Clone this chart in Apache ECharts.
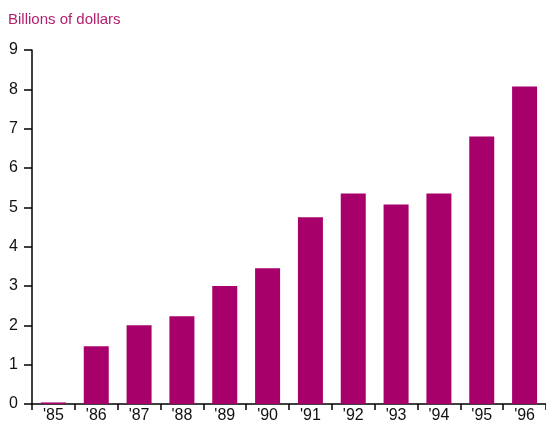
<!DOCTYPE html>
<html>
<head>
<meta charset="utf-8">
<script src="https://cdn.jsdelivr.net/npm/echarts@6/dist/echarts.min.js"></script>
<style>
  html, body { margin: 0; padding: 0; background: #fff; }
  #chart { width: 546px; height: 424px; }
</style>
</head>
<body>
<div id="chart"></div>
<script>
const years = ["'85", "'86", "'87", "'88", "'89", "'90", "'91", "'92", "'93", "'94", "'95", "'96"];
const values = [0.04, 1.47, 2.0, 2.23, 3.0, 3.45, 4.75, 5.35, 5.07, 5.35, 6.8, 8.07];
const yTicks = [0, 1, 2, 3, 4, 5, 6, 7, 8, 9];

const chart = echarts.init(document.getElementById('chart'));
const font = 'Liberation Sans, Arial, sans-serif';

chart.setOption({
    animation: false,
    title: {
        text: 'Billions of dollars',
        left: 3,
        top: 7,
        textStyle: { fontFamily: font, fontSize: 15, fontWeight: 'normal', color: '#B4206F' }
    },
    grid: { left: 32, right: 0, top: 50, bottom: 19, containLabel: false },
    xAxis: {
        type: 'category',
        data: years,
        axisLine: { lineStyle: { color: '#000', width: 1.5 } },
        axisTick: { show: true, length: 6, lineStyle: { color: '#000', width: 1.5 } },
        axisLabel: { fontFamily: font, fontSize: 16, color: '#111', margin: 4 }
    },
    yAxis: {
        type: 'value',
        min: yTicks[0],
        max: yTicks[yTicks.length - 1],
        interval: 1,
        splitLine: { show: false },
        axisLine: { show: true, lineStyle: { color: '#000', width: 1.5 } },
        axisTick: { show: true, length: 8, lineStyle: { color: '#000', width: 1.5 } },
        axisLabel: { fontFamily: font, fontSize: 16, color: '#111', margin: 14 }
    },
    series: [{
        type: 'bar',
        data: values,
        barWidth: 25,
        itemStyle: { color: '#A8006A' }
    }]
});
</script>
</body>
</html>
